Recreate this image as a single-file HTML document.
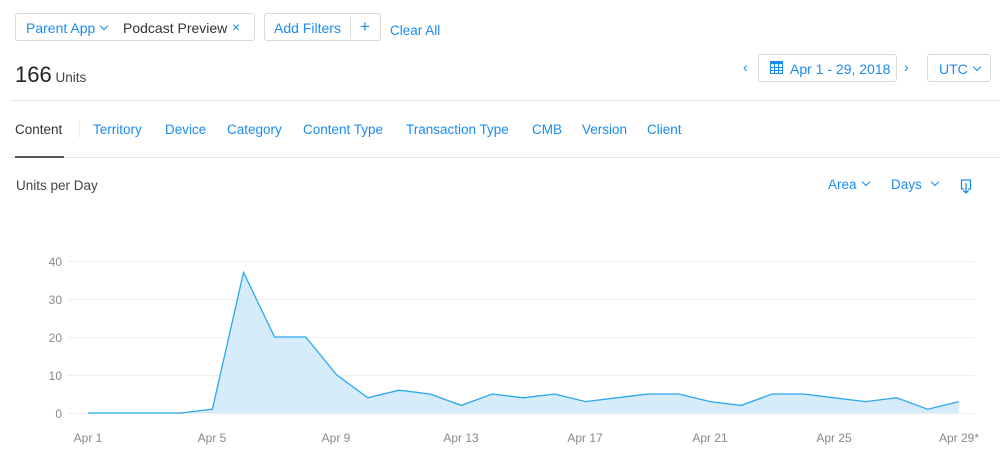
<!DOCTYPE html>
<html><head><style>
body{margin:0;width:1000px;height:452px;background:#fff;font-family:"Liberation Sans",sans-serif;position:relative;overflow:hidden;color:#333}
.a{position:absolute;white-space:nowrap}
.b{color:#1a8cf0}
.box{position:absolute;border:1px solid #d8d8d8;border-radius:3px;height:26px;box-sizing:border-box}
.chev{display:inline-block;width:5px;height:5px;border-right:1.3px solid #1a8cf0;border-bottom:1.3px solid #1a8cf0;transform:rotate(45deg);margin-left:6px;position:relative;top:-4px}
</style></head><body>
<div class="box" style="left:15px;top:13px;width:240px;height:28px"></div>
<div class="a b" style="left:26px;top:20px;font-size:14px">Parent App<span class="chev"></span></div>
<div class="a" style="left:123px;top:20px;font-size:14px;color:#333">Podcast Preview</div>
<div class="a b" style="left:232px;top:19px;font-size:14px">×</div>
<div class="box" style="left:264px;top:13px;width:117px;height:28px"></div>
<div class="a" style="left:350px;top:16px;width:1px;height:22px;background:#ddd"></div>
<div class="a b" style="left:274px;top:20px;font-size:14px">Add Filters</div>
<div class="a b" style="left:360px;top:17px;font-size:17px">+</div>
<div class="a b" style="left:390px;top:23px;font-size:13.5px">Clear All</div>
<div class="a" style="left:15px;top:62px;font-size:22px;color:#222">166<span style="font-size:13.5px;color:#444"> Units</span></div>
<div class="a b" style="left:743px;top:59px;font-size:14px">‹</div>
<div class="box" style="left:758px;top:54px;width:139px;height:28px"></div>
<svg class="a" style="left:770px;top:61px" width="13" height="13"><rect x="0.5" y="0.5" width="12" height="12" fill="none" stroke="#1a8cf0"/><rect x="0" y="0" width="13" height="3" fill="#1a8cf0"/><path d="M4.5 3V13M8.5 3V13M0 6.5H13M0 9.5H13" stroke="#1a8cf0"/></svg>
<div class="a b" style="left:790px;top:61px;font-size:14px">Apr 1 - 29, 2018</div>
<div class="a b" style="left:904px;top:59px;font-size:14px">›</div>
<div class="box" style="left:927px;top:54px;width:64px;height:28px"></div>
<div class="a b" style="left:939px;top:61px;font-size:14px">UTC<span class="chev"></span></div>
<div class="a" style="left:11px;top:100px;width:989px;height:1px;background:#e8e8e8"></div>
<div class="a" style="left:15px;top:122px;font-size:13.5px;color:#333">Content</div>
<div class="a" style="left:79px;top:120px;width:1px;height:18px;background:#eee"></div>
<div class="a b" style="left:93px;top:122px;font-size:13.5px">Territory</div>
<div class="a b" style="left:165px;top:122px;font-size:13.5px">Device</div>
<div class="a b" style="left:227px;top:122px;font-size:13.5px">Category</div>
<div class="a b" style="left:303px;top:122px;font-size:13.5px">Content Type</div>
<div class="a b" style="left:406px;top:122px;font-size:13.5px">Transaction Type</div>
<div class="a b" style="left:532px;top:122px;font-size:13.5px">CMB</div>
<div class="a b" style="left:582px;top:122px;font-size:13.5px">Version</div>
<div class="a b" style="left:647px;top:122px;font-size:13.5px">Client</div>
<div class="a" style="left:11px;top:157px;width:989px;height:1px;background:#e8e8e8"></div>
<div class="a" style="left:15px;top:156px;width:49px;height:2px;background:#555"></div>
<div class="a" style="left:16px;top:178px;font-size:13.5px;color:#444">Units per Day</div>
<div class="a b" style="left:828px;top:177px;font-size:13.5px">Area<span class="chev"></span></div>
<div class="a b" style="left:891px;top:177px;font-size:13.5px">Days<span class="chev" style="margin-left:10px"></span></div>
<svg class="a" style="left:960px;top:179px" width="12" height="16"><path d="M3 1H10.5V10H8M4 10H1.5V1H3" fill="none" stroke="#1a8cf0" stroke-width="1.3"/><path d="M6 4V14M3.5 11.5L6 14L8.5 11.5" fill="none" stroke="#1a8cf0" stroke-width="1.3"/></svg>
<svg class="a" style="left:0;top:0" width="1000" height="452">
<g stroke="#eee" stroke-width="1">
<line x1="68" x2="975" y1="261.5" y2="261.5"/><line x1="68" x2="975" y1="299.5" y2="299.5"/>
<line x1="68" x2="975" y1="337.5" y2="337.5"/><line x1="68" x2="975" y1="375.5" y2="375.5"/>
<line x1="68" x2="975" y1="413.5" y2="413.5"/></g>
<g font-size="12" fill="#888" text-anchor="end" font-family="Liberation Sans">
<text x="62" y="266">40</text><text x="62" y="304">30</text><text x="62" y="342">20</text><text x="62" y="380">10</text><text x="62" y="418">0</text></g>
<g font-size="12" fill="#888" text-anchor="middle" font-family="Liberation Sans">
<text x="88" y="442">Apr 1</text><text x="212" y="442">Apr 5</text><text x="336" y="442">Apr 9</text><text x="461" y="442">Apr 13</text><text x="585" y="442">Apr 17</text><text x="710" y="442">Apr 21</text><text x="834" y="442">Apr 25</text><text x="959" y="442">Apr 29*</text></g>
<polygon fill="#d6ecfa" points="88,413 88,413 119.1,413 150.2,413 181.3,413 212.4,409.2 243.5,272.4 274.6,337 305.7,337 336.8,375 367.9,397.8 399,390.2 430.1,394 461.2,405.4 492.3,394 523.4,397.8 554.5,394 585.6,401.6 616.7,397.8 647.8,394 678.9,394 710,401.6 741.1,405.4 772.2,394 803.3,394 834.4,397.8 865.5,401.6 896.6,397.8 927.7,409.2 958.8,401.6 958.8,413"/>
<polyline fill="none" stroke="#29a8ef" stroke-width="1.3" points="88,413 119.1,413 150.2,413 181.3,413 212.4,409.2 243.5,272.4 274.6,337 305.7,337 336.8,375 367.9,397.8 399,390.2 430.1,394 461.2,405.4 492.3,394 523.4,397.8 554.5,394 585.6,401.6 616.7,397.8 647.8,394 678.9,394 710,401.6 741.1,405.4 772.2,394 803.3,394 834.4,397.8 865.5,401.6 896.6,397.8 927.7,409.2 958.8,401.6"/>
</svg>
</body></html>
